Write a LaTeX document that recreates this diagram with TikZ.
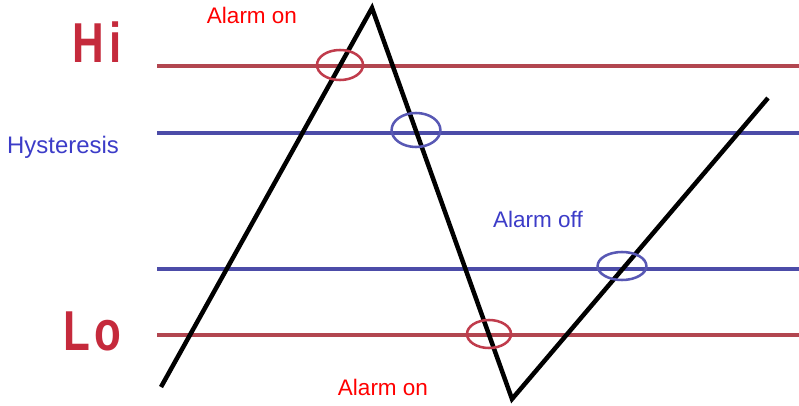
\documentclass[tikz,border=0pt]{standalone}
\usepackage{fontspec}
\setmainfont{Liberation Sans}
\usetikzlibrary{shapes.geometric}

\definecolor{limitred}{HTML}{B24650}
\definecolor{hystblue}{HTML}{4C4CA8}
\definecolor{ringred}{HTML}{C03C4C}
\definecolor{ringblue}{HTML}{5858B4}
\definecolor{levelred}{HTML}{C52A3C}
\definecolor{labelblue}{HTML}{3C3CC8}

\begin{document}
\begin{tikzpicture}[
    x=0.025cm, y=-0.025cm,
    limit/.style={draw=limitred, line width=2.6pt},
    hyst/.style={draw=hystblue, line width=2.2pt},
    signal/.style={draw=black, line width=3.2pt, line join=miter},
    ring/.style={ellipse, draw, line width=1.8pt, inner sep=0pt, minimum width=1.15cm, minimum height=0.72cm},
    level/.style={text=levelred, font=\fontsize{40}{42}\selectfont\bfseries, inner sep=0pt, anchor=base},
    alarm/.style={font=\fontsize{16}{19}\selectfont, inner sep=0pt, anchor=base}
]
    \useasboundingbox (0,0) rectangle (799,406);

    % threshold lines
    \coordinate (hiL) at (157,66);   \coordinate (hiR) at (799,66);
    \coordinate (upL) at (157,133);  \coordinate (upR) at (799,133);
    \coordinate (dnL) at (157,269);  \coordinate (dnR) at (799,269);
    \coordinate (loL) at (157,335);  \coordinate (loR) at (799,335);
    \draw[limit] (hiL) -- (hiR);
    \draw[hyst] (upL) -- (upR);
    \draw[hyst] (dnL) -- (dnR);
    \draw[limit] (loL) -- (loR);

    % signal
    \coordinate (p0) at (161,387);
    \coordinate (p1) at (372,8);
    \coordinate (p2) at (512,399);
    \coordinate (p3) at (768,98);
    \draw[signal] (p0) -- (p1) -- (p2) -- (p3);

    % crossing marks
    \node[ring, draw=ringred, minimum height=0.75cm] (hiOn) at (340,65) {};
    \node[ring, draw=ringblue, minimum width=1.22cm, minimum height=0.85cm] (upOff) at (416,130) {};
    \node[ring, draw=ringblue, minimum width=1.22cm, minimum height=0.7cm] (dnOff) at (622,266) {};
    \node[ring, draw=ringred, minimum width=1.1cm, minimum height=0.7cm] (loOn) at (489,334) {};

    % labels
    \node[level] (hiLabel) at (97,63) {\scalebox{0.78}[1]{H\kern5pt i}};
    \node[level] (loLabel) at (92,350) {\scalebox{0.78}[1]{L\kern4pt o}};
    \node[alarm, text=red] (onTop) at (252,24) {Alarm on};
    \node[alarm, text=labelblue, font=\fontsize{17}{20}\selectfont] (hystLabel) at (63,154) {Hysteresis};
    \node[alarm, text=labelblue] (offLabel) at (538,227) {Alarm off};
    \node[alarm, text=red] (onBottom) at (383,395) {Alarm on};
\end{tikzpicture}
\end{document}
